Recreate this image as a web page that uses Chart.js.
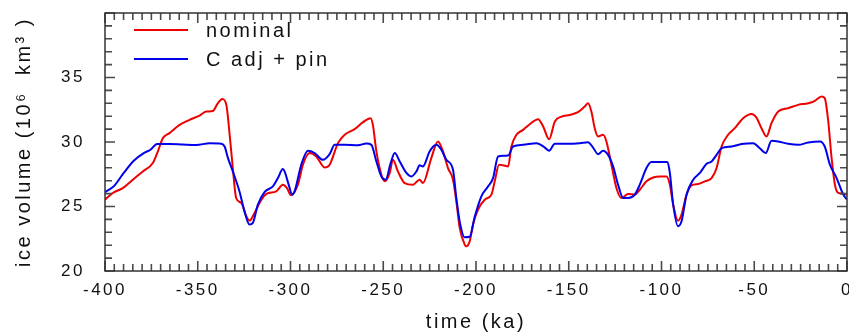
<!DOCTYPE html>
<html>
<head>
<meta charset="utf-8">
<script src="https://cdn.jsdelivr.net/npm/chart.js@4.4.1/dist/chart.umd.min.js"></script>
<style>
  html, body { margin: 0; padding: 0; background: #fff; }
  canvas { display: block; }
</style>
</head>
<body>
<canvas id="c" width="849" height="335"></canvas>
<script>
// ---- data ----
const seriesLabels = ['nominal', 'C adj + pin'];

const nominalTime = [-400,-395.8,-390.4,-385,-379.6,-374.2,-371.5,-368.8,-365.2,-359.8,-354.4,-349,-345.4,-341.9,-339.2,-336.8,-334.6,-332.8,-331.1,-329.3,-326.5,-323.8,-322.1,-319.4,-315.7,-313,-307.7,-304.1,-302,-299.8,-296,-293.3,-289.7,-286.1,-281.6,-278.9,-274.4,-270.8,-265.4,-260.9,-256.8,-255.6,-253.7,-251,-249.2,-246.5,-244.8,-242.1,-238.5,-234,-230.4,-228.6,-224.1,-220.5,-217.8,-215.1,-212.4,-210.6,-208.8,-206.1,-205.3,-203.4,-201.6,-198.9,-195.3,-191.7,-189.9,-187.6,-185.4,-182.7,-180.9,-178.2,-174.6,-171,-166.5,-163.8,-160.6,-157.5,-153.9,-149.5,-145,-141.4,-139.6,-137.8,-136,-134.2,-131.5,-129.7,-127,-124.3,-121.6,-118,-114.4,-111.7,-108.1,-104.5,-100.9,-97.3,-95.5,-93.7,-91.1,-89.2,-86.5,-83.8,-80.2,-76.6,-73,-70.3,-67.6,-64.1,-60.5,-56,-51.5,-48.8,-46.1,-43.4,-40.7,-37.1,-31.7,-26.3,-20.9,-17.3,-13.7,-12,-10.1,-8.3,-6.5,-4.7,-1.1,0];
const nominalVolume = [25.53,26.05,26.43,27.08,27.72,28.37,29.27,30.3,30.69,31.33,31.72,32.05,32.36,32.4,33.0,33.34,32.88,30.56,27.98,25.66,25.27,24.24,23.9,24.5,25.53,25.97,26.17,26.69,26.45,25.88,26.69,28.24,29.14,28.88,28.03,28.24,29.91,30.56,31.0,31.54,31.85,31.33,29.27,27.46,26.95,27.6,28.62,27.72,26.82,26.69,27.08,26.82,28.75,30.04,29.27,27.98,27.08,25.4,23.34,22.05,21.92,22.3,23.6,24.76,25.53,25.92,26.95,28.24,28.19,28.11,29.65,30.56,30.94,31.38,31.77,31.2,30.22,31.59,31.97,32.1,32.31,32.75,33.0,32.36,31.07,30.43,30.56,30.04,28.24,26.43,25.66,25.97,25.92,26.3,26.95,27.25,27.33,27.33,26.69,25.14,23.9,24.37,25.92,26.64,26.74,26.95,27.2,27.98,29.65,30.56,31.07,31.85,32.18,31.89,31.07,30.43,31.46,32.36,32.62,32.88,33.0,33.19,33.53,33.4,31.59,28.75,26.69,26.05,25.97,25.9];

const adjTime = [-400,-395.3,-389.9,-384.5,-379.1,-375.5,-371.9,-365.2,-358,-350.8,-343.6,-337.3,-335.5,-333.7,-331.1,-327.5,-324.8,-322.1,-320.3,-317.6,-314,-309.5,-306.8,-304.1,-303.2,-300.8,-299.2,-297.8,-294.2,-290.6,-287,-282.5,-278.9,-276.2,-270.8,-263.6,-259.1,-256.4,-253.7,-251,-248.7,-246,-243.8,-241.1,-237.5,-234.8,-232.1,-230.4,-228.6,-225,-221.4,-218.7,-216,-212.4,-210.6,-208.8,-206.1,-203.4,-200.7,-197.1,-193.5,-190.8,-188.1,-185.4,-182.7,-180,-174.6,-167.4,-162.9,-160.6,-157.5,-151.2,-144,-139.6,-136.9,-134.2,-131.5,-128.8,-126.1,-123.4,-120.7,-118,-114.4,-111.7,-108.1,-105.4,-100.9,-96.8,-95.5,-93.7,-91.1,-89.2,-86.5,-82.9,-79.3,-75.7,-73,-70.3,-67.6,-62.2,-56.8,-50.6,-47,-43.8,-40.7,-37.1,-31.7,-26.3,-20.9,-14.6,-12,-9.2,-5.6,-2,0];
const adjVolume = [26.12,26.56,27.6,28.55,29.14,29.4,29.84,29.84,29.8,29.77,29.9,29.87,29.65,28.75,27.72,26.17,24.62,23.6,23.73,25.14,26.12,26.56,27.2,27.9,27.72,26.6,25.92,26.17,28.24,29.32,29.14,28.62,29.06,29.78,29.78,29.75,29.88,29.78,28.49,27.33,27.08,28.37,29.14,28.49,27.6,27.33,27.72,28.19,28.11,29.27,29.78,29.4,28.62,27.85,25.66,23.85,22.61,22.65,24.2,25.79,26.56,27.2,28.88,28.93,28.95,29.65,29.78,29.91,29.57,29.32,29.86,29.86,29.91,29.99,29.57,29.06,29.32,29.0,28.11,26.69,25.66,25.66,25.92,26.69,27.98,28.44,28.44,28.44,27.6,25.14,23.47,23.85,25.92,27.08,27.6,28.31,28.49,29.0,29.52,29.65,29.84,29.91,29.52,29.14,30.09,30.04,29.86,29.78,29.96,30.04,29.65,28.24,27.2,25.92,25.53];

const xMin = -400, xMax = 0, xMajor = 50, xMinor = 5;
const yMin = 20, yMax = 40, yMajor = 5, yMinor = 1;

const xTitle = 'time (ka)';
const yTitle = 'ice volume (10\u2076  km\u00B3 )';

// ---- styles ----
const RED = 'rgb(238,0,0)';
const BLUE = 'rgb(0,0,235)';
const FONT = "'Liberation Sans', Arial, sans-serif";
const SPACING = '2.5px';

function pts(xs, ys) { return xs.map((x, i) => ({ x: x, y: ys[i] })); }

const spacingPlugin = {
  id: 'spacing',
  beforeUpdate(chart) { chart.ctx.letterSpacing = SPACING; },
  beforeDraw(chart) { chart.ctx.letterSpacing = SPACING; }
};

const framePlugin = {
  id: 'frame',
  afterDatasetsDraw(chart) {
    const { ctx, chartArea: a, scales } = chart;
    const xs = scales.x, ys = scales.y;
    ctx.save();
    ctx.strokeStyle = '#4a4a4a';
    ctx.lineWidth = 1.6;
    ctx.beginPath();
    const nx = Math.round((xMax - xMin) / xMinor);
    const perX = Math.round(xMajor / xMinor);
    for (let i = 0; i <= nx; i++) {
      const px = xs.getPixelForValue(xMin + i * xMinor);
      const len = (i % perX === 0) ? 10 : 7;
      ctx.moveTo(px, a.bottom); ctx.lineTo(px, a.bottom - len);
      ctx.moveTo(px, a.top); ctx.lineTo(px, a.top + len);
    }
    const ny = Math.round((yMax - yMin) / yMinor);
    const perY = Math.round(yMajor / yMinor);
    for (let j = 0; j <= ny; j++) {
      const py = ys.getPixelForValue(yMin + j * yMinor);
      const len = (j % perY === 0) ? 10 : 7;
      ctx.moveTo(a.left, py); ctx.lineTo(a.left + len, py);
      ctx.moveTo(a.right, py); ctx.lineTo(a.right - len, py);
    }
    ctx.stroke();
    ctx.strokeStyle = '#333';
    ctx.lineWidth = 1.5;
    ctx.strokeRect(a.left, a.top, a.right - a.left, a.bottom - a.top);

    // legend (inside, top-left)
    ctx.letterSpacing = SPACING;
    ctx.font = '20px ' + FONT;
    ctx.fillStyle = '#111';
    ctx.textAlign = 'left';
    ctx.textBaseline = 'alphabetic';
    const items = [
      { label: chart.data.datasets[1].label, color: chart.data.datasets[1].borderColor, ly: 30, ty: 37 },
      { label: chart.data.datasets[0].label, color: chart.data.datasets[0].borderColor, ly: 59, ty: 66 }
    ];
    items.forEach(it => {
      ctx.strokeStyle = it.color;
      ctx.lineWidth = 2;
      ctx.beginPath();
      ctx.moveTo(a.left + 29, it.ly);
      ctx.lineTo(a.left + 83, it.ly);
      ctx.stroke();
      ctx.fillText(it.label, a.left + 101, it.ty);
    });
    ctx.restore();
  }
};

new Chart(document.getElementById('c'), {
  type: 'line',
  data: {
    datasets: [
      { label: seriesLabels[1], data: pts(adjTime, adjVolume), borderColor: BLUE, borderWidth: 2,
        pointRadius: 0, cubicInterpolationMode: 'monotone', fill: false, order: 0 },
      { label: seriesLabels[0], data: pts(nominalTime, nominalVolume), borderColor: RED, borderWidth: 2,
        pointRadius: 0, cubicInterpolationMode: 'monotone', fill: false, order: 1 }
    ]
  },
  options: {
    responsive: false,
    animation: false,
    devicePixelRatio: 1,
    layout: { padding: { top: 13, right: 2, left: 0, bottom: 0 } },
    plugins: { legend: { display: false }, tooltip: { enabled: false } },
    scales: {
      x: {
        type: 'linear',
        min: xMin, max: xMax,
        grid: { display: false, drawTicks: false },
        border: { display: false },
        ticks: {
          stepSize: xMajor, padding: 9, maxRotation: 0, autoSkip: false,
          color: '#111', font: { family: FONT, size: 17 },
          callback: v => String(v)
        },
        title: { display: true, text: xTitle, color: '#111', font: { family: FONT, size: 20 }, padding: { top: 0, bottom: 1 } },
        afterFit(s) { s.height = 64; s.paddingLeft = 0; s.paddingRight = 0; }
      },
      y: {
        min: yMin, max: yMax,
        grid: { display: false, drawTicks: false },
        border: { display: false },
        ticks: {
          stepSize: yMajor, padding: 20,
          color: '#111', font: { family: FONT, size: 17 },
          callback: v => (v >= yMax ? null : String(v))
        },
        title: { display: true, text: yTitle, color: '#111', font: { family: FONT, size: 20 }, padding: { top: 12, bottom: 0 } },
        afterFit(s) { s.width = 105; s.paddingTop = 0; s.paddingBottom = 0; }
      }
    }
  },
  plugins: [spacingPlugin, framePlugin]
});
</script>
</body>
</html>
